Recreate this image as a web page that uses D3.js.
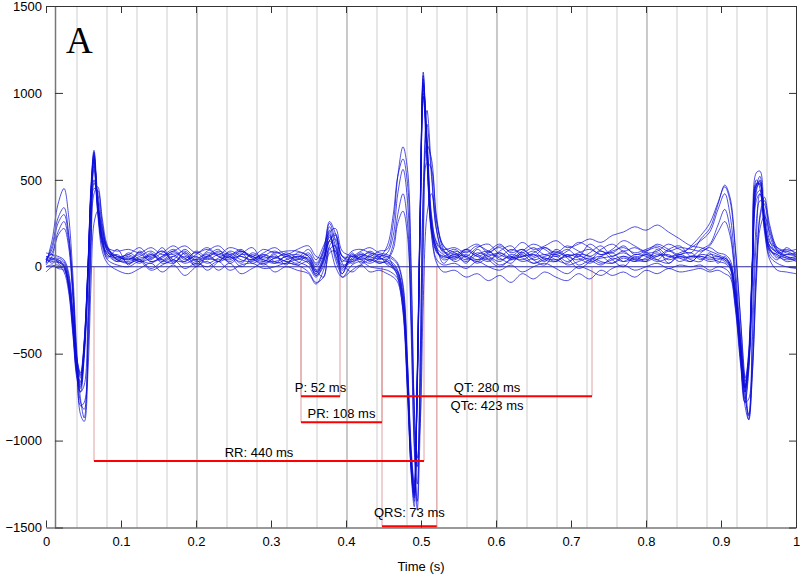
<!DOCTYPE html>
<html>
<head>
<meta charset="utf-8">
<script src="https://cdn.jsdelivr.net/npm/d3@7"></script>
<style>
  body { margin: 0; background: #fff; }
  svg { display: block; font-family: "Liberation Sans", Arial, sans-serif; }
</style>
</head>
<body>
<svg id="chart" width="800" height="574"></svg>
<script>
// sample times (s), shared by all overlaid beats
const timeS = [
  0.000, 0.008, 0.016, 0.024, 0.030, 0.036, 0.041, 0.046, 0.051, 0.056, 0.060, 0.064, 0.069, 0.075, 0.082, 0.095,
  0.110, 0.125, 0.140, 0.155, 0.170, 0.185, 0.200, 0.215, 0.230, 0.245, 0.260, 0.275, 0.290, 0.305, 0.320,
  0.335, 0.350, 0.360, 0.370, 0.378, 0.386, 0.395, 0.408, 0.420, 0.432, 0.444,
  0.455, 0.463, 0.469, 0.476, 0.482, 0.487, 0.491, 0.495, 0.499, 0.503, 0.508, 0.514, 0.521, 0.530,
  0.545, 0.560, 0.575, 0.590, 0.605, 0.620, 0.635, 0.650, 0.665, 0.680, 0.695, 0.710, 0.725, 0.740, 0.755, 0.770, 0.785, 0.800, 0.815, 0.830, 0.845, 0.860,
  0.873, 0.885, 0.896, 0.905, 0.912, 0.919, 0.926, 0.932, 0.937, 0.942, 0.947, 0.952, 0.958, 0.965, 0.975, 0.987, 1.000
];

// overlaid ECG traces (uV)
const trace01 = [
  40, 30, 25, 5, -80, -330, -580, -660, -430, 20, 450, 660, 330, 140, 80, 60,
  40, 70, 30, 50, 90, 40, 60, 20, 50, 80, 40, 30, 60, 20, 40,
  60, 30, -40, 40, 190, 60, -20, 50, 70, 40, 30,
  20, 0, -40, -200, -650, -1150, -1320, -650, 350, 1080, 650, 220, 90, 50,
  70, 40, 80, 60, 30, 70, 50, 20, 40, 60, 10, 30, 50, 20, 40, 60, 30, 50, 80, 40, 60, 50,
  60, 40, 50, 30, 0, -180, -480, -700, -520, 40, 480, 470, 240, 100, 60, 40, 50
];
const trace02 = [
  60, 50, 40, 20, -60, -300, -540, -630, -460, -30, 420, 620, 380, 160, 90, 40,
  60, 30, 80, 20, 40, 100, 50, 70, 30, 60, 90, 50, 20, 50, 70,
  30, 0, -60, 20, 150, 90, 0, 30, 60, 80, 50,
  40, 20, -20, -150, -580, -1100, -1280, -720, 250, 1020, 720, 260, 110, 70,
  40, 90, 60, 30, 80, 50, 60, 90, 40, 30, 70, 50, 20, 60, 80, 30, 50, 70, 40, 90, 50, 30,
  70, 60, 30, 20, -10, -200, -520, -720, -560, 0, 430, 500, 270, 120, 80, 60, 30
];
const trace03 = [
  20, 40, 30, 10, -100, -360, -600, -680, -470, -10, 430, 640, 360, 150, 60, 70,
  20, 50, 60, 90, 30, 60, 20, 80, 60, 30, 70, 60, 40, 30, 60,
  70, 40, -20, 60, 210, 40, -40, 70, 40, 60, 20,
  30, -10, -50, -230, -700, -1180, -1350, -620, 380, 1100, 680, 230, 80, 60,
  90, 60, 30, 70, 50, 20, 80, 40, 60, 70, 30, 60, 40, 10, 50, 30, 70, 60, 30, 50, 70, 80,
  40, 70, 60, 40, 10, -160, -450, -690, -480, 60, 500, 450, 230, 110, 50, 70, 60
];
const trace04 = [
  50, 20, 40, 0, -120, -380, -620, -700, -500, -60, 390, 600, 340, 130, 70, 30,
  80, 40, 20, 60, 70, 30, 90, 50, 40, 70, 20, 80, 50, 60, 30,
  40, 50, -30, 30, 170, 110, 10, 40, 80, 50, 60,
  10, -10, -30, -170, -620, -1120, -1300, -680, 300, 1050, 700, 240, 100, 40,
  60, 30, 70, 90, 40, 60, 30, 50, 70, 40, 20, 70, 60, 30, 20, 60, 40, 30, 60, 70, 30, 60,
  50, 30, 40, 50, 20, -140, -430, -660, -540, 30, 470, 490, 260, 90, 70, 30, 40
];
const trace05 = [
  0, 10, -10, -20, -110, -340, -560, -640, -480, -40, 380, 580, 320, 120, 40, 10,
  0, 30, -20, 10, 40, -10, 20, 0, 30, -20, 10, 20, -10, 0, 20,
  10, -30, -90, -60, 80, 90, -60, 10, 30, 0, -10,
  -20, -40, -70, -210, -670, -1140, -1290, -600, 320, 980, 620, 200, 40, 10,
  20, -10, 30, 0, -20, 10, -30, 0, 20, -10, -40, 0, -20, -50, -10, 10, -20, 0, 20, -10, 10, 0,
  10, -20, 0, -10, -40, -220, -540, -760, -580, -40, 410, 440, 220, 60, 20, 0, -10
];
const trace06 = [
  80, 70, 60, 40, -30, -270, -520, -610, -420, 10, 470, 670, 400, 190, 110, 90,
  100, 80, 110, 70, 90, 120, 80, 100, 70, 110, 90, 60, 100, 80, 90,
  90, 60, 0, 80, 230, 120, 30, 90, 100, 80, 70,
  60, 40, 10, -120, -560, -1080, -1260, -700, 280, 1040, 760, 300, 140, 100,
  110, 80, 120, 90, 60, 100, 80, 110, 70, 90, 60, 80, 100, 70, 90, 110, 80, 100, 120, 90, 110, 100,
  90, 110, 80, 70, 40, -120, -400, -640, -500, 80, 540, 550, 290, 140, 110, 90, 100
];
const trace07 = [
  30, 120, 280, 340, 200, -150, -560, -800, -780, -350, 200, 480, 420, 230, 100, 50,
  70, 30, 50, 90, 40, 30, 70, 110, 60, 40, 80, 20, 60, 90, 50,
  20, 70, 10, 90, 250, 150, 40, 30, 50, 90, 60,
  80, 180, 420, 560, 380, -300, -1000, -1250, -500, 400, 820, 520, 200, 90,
  50, 100, 70, 40, 90, 120, 60, 80, 110, 70, 100, 60, 130, 90, 80, 120, 70, 90, 110, 60, 80, 110,
  150, 200, 330, 420, 300, 0, -400, -750, -850, -400, 150, 380, 360, 180, 90, 70, 80
];
const trace08 = [
  20, 150, 360, 450, 300, -60, -480, -760, -870, -500, 100, 420, 460, 280, 120, 40,
  30, 60, 90, 40, 20, 80, 30, 50, 90, 60, 30, 70, 40, 20, 60,
  50, 100, 40, 120, 200, 220, 90, 60, 40, 20, 50,
  120, 300, 520, 620, 480, -100, -800, -1150, -700, 100, 600, 560, 260, 120,
  80, 60, 110, 130, 70, 50, 90, 130, 100, 60, 90, 140, 110, 70, 100, 150, 120, 90, 130, 100, 70, 120,
  180, 250, 370, 460, 380, 100, -300, -650, -860, -550, 0, 280, 380, 220, 100, 60, 50
];
const trace09 = [
  50, 80, 200, 260, 150, -160, -540, -720, -680, -250, 280, 500, 380, 200, 90, 30,
  50, 20, 70, 40, 80, 50, 10, 60, 30, 90, 60, 40, 70, 30, 20,
  60, 40, -30, 50, 150, 180, 60, 20, 60, 30, 70,
  50, 130, 300, 420, 250, -400, -1050, -1350, -550, 450, 900, 560, 210, 80,
  100, 50, 40, 80, 110, 60, 40, 70, 30, 100, 60, 40, 80, 120, 60, 90, 40, 70, 60, 100, 120, 60,
  100, 130, 240, 330, 220, -60, -480, -780, -760, -250, 250, 420, 320, 150, 80, 90, 60
];
const trace10 = [
  40, 70, 20, -10, -90, -320, -590, -670, -440, 0, 440, 650, 350, 170, 50, 100,
  10, 90, 40, 110, 20, 80, 0, 60, 100, 20, 70, 110, 30, 70, 10,
  80, 60, -20, -60, 100, 120, -40, 80, 20, 70, 40,
  60, 0, -60, -260, -740, -1200, -1380, -660, 330, 1120, 640, 210, 110, 20,
  80, 20, 100, 40, 0, 50, 100, 40, 10, 80, 50, -10, 30, 90, 40, 0, 60, 30, 100, 20, 70, 40,
  30, 80, 20, 60, 0, -190, -500, -720, -540, 20, 460, 520, 250, 80, 40, 110, 70
];
const trace11 = [
  -30, 0, 10, -30, -140, -400, -640, -720, -520, -80, 350, 560, 300, 90, 20, -20,
  -40, -10, 20, -30, 10, -50, 0, 30, -20, 20, -40, -10, 20, -30, 0,
  -20, -40, -100, -20, 110, 0, -60, -20, 10, -30, -20,
  -40, -60, -90, -250, -700, -1170, -1330, -640, 280, 1000, 600, 180, 20, -30,
  -20, -60, -40, -80, -50, -90, -40, -70, -30, -60, -80, -40, -70, -20, -50, -30, -60, -20, -40, -10, -30, -20,
  -10, -30, -20, -40, -60, -240, -560, -780, -600, -60, 380, 420, 200, 40, -20, -30, -40
];
const trace12 = [
  60, 40, 50, 30, -50, -280, -530, -620, -440, 0, 410, 610, 370, 170, 100, 60,
  70, 110, 50, 80, 120, 70, 40, 90, 120, 70, 100, 50, 80, 110, 70,
  100, 120, 60, 50, 150, 190, 60, 60, 90, 110, 80,
  70, 50, 20, -100, -540, -1050, -1240, -680, 260, 980, 700, 280, 130, 90,
  60, 100, 130, 80, 120, 90, 140, 100, 120, 150, 110, 130, 160, 140, 180, 200, 230, 210, 240, 200, 160, 120,
  110, 90, 70, 50, 20, -150, -460, -700, -540, 40, 450, 480, 260, 120, 90, 100, 80
];
const trace13 = [
  10, 60, 180, 220, 120, -200, -580, -850, -890, -600, -100, 250, 320, 220, 110, 40,
  20, 40, -10, 30, 60, 20, 40, -20, 30, 60, 0, 40, 10, 50, 30,
  10, 30, -50, 0, 120, 160, 20, -30, 10, 40, 20,
  40, 100, 250, 320, 180, -300, -800, -1100, -900, -200, 300, 420, 250, 100,
  30, 60, 20, 50, 10, 40, 70, 20, 50, 30, 70, 10, 40, 60, 20, 50, 30, 80, 40, 20, 60, 30,
  80, 120, 200, 260, 180, -80, -500, -800, -880, -600, -100, 220, 290, 200, 90, 50, 40
];
const trace14 = [
  30, 50, 30, 0, -100, -350, -610, -690, -480, -20, 420, 630, 350, 160, 70, 50,
  50, 40, 70, 30, 60, 90, 40, 60, 80, 50, 60, 40, 70, 50, 80,
  50, 20, -50, 40, 180, 70, -10, 60, 50, 40, 50,
  30, 10, -30, -190, -640, -1130, -1310, -660, 330, 1060, 680, 240, 90, 60,
  50, 70, 40, 60, 80, 40, 60, 70, 50, 40, 60, 70, 30, 50, 60, 80, 50, 40, 70, 60, 50, 60,
  60, 50, 60, 40, 10, -170, -470, -690, -530, 30, 470, 480, 250, 100, 70, 50, 60
];
const trace15 = [
  40, 100, 250, 300, 180, -120, -520, -780, -820, -420, 150, 450, 440, 250, 110, 60,
  40, 80, 30, 60, 100, 50, 80, 40, 70, 50, 90, 60, 30, 80, 60,
  40, 80, 20, 100, 260, 190, 60, 40, 70, 60, 90,
  100, 250, 520, 690, 560, 0, -900, -1400, -900, 200, 700, 620, 280, 120,
  70, 100, 60, 90, 130, 80, 100, 60, 110, 80, 120, 90, 60, 100, 130, 90, 110, 80, 90, 130, 100, 80,
  160, 220, 360, 470, 400, 120, -300, -700, -880, -600, -50, 300, 400, 240, 110, 80, 70
];
const traces = [trace01, trace02, trace03, trace04, trace05, trace06, trace07, trace08,
                trace09, trace10, trace11, trace12, trace13, trace14, trace15];

// measured intervals
const intervalLabels = ["P: 52 ms", "PR: 108 ms", "QRS: 73 ms", "QT: 280 ms", "RR: 440 ms"];
const intervalStart  = [0.340, 0.340, 0.448, 0.448, 0.064];
const intervalEnd    = [0.392, 0.448, 0.521, 0.728, 0.504];
const intervalLevel  = [-745, -895, -1493, -745, -1118];
const qtcLabel = "QTc: 423 ms";

const xTicks = [0, 0.1, 0.2, 0.3, 0.4, 0.5, 0.6, 0.7, 0.8, 0.9, 1];
const yTicks = [-1500, -1000, -500, 0, 500, 1000, 1500];
const gridTimes = d3.range(1, 25).map(k => 0.0013 + 0.04 * k); // 40 ms paper grid

const svg = d3.select('#chart');
const x = d3.scaleLinear().domain([0, 1]).range([46, 796]);
const y = d3.scaleLinear().domain([-1500, 1500]).range([527.5, 6]);
const plotTop = y(1500), plotBottom = y(-1500);

// grid
svg.append('g').selectAll('line')
  .data(gridTimes)
  .enter().append('line')
  .attr('x1', d => x(d)).attr('x2', d => x(d))
  .attr('y1', plotTop).attr('y2', plotBottom)
  .attr('stroke', (d, i) => (i + 1) % 5 === 0 ? '#c9c9c9' : '#e6e6e6')
  .attr('stroke-width', 2);

// thin guide lines down to each interval bar
const guides = [];
intervalStart.forEach((s, i) => {
  guides.push({ t: s, v: intervalLevel[i] });
  guides.push({ t: intervalEnd[i], v: intervalLevel[i] });
});
svg.append('g').selectAll('line')
  .data(guides)
  .enter().append('line')
  .attr('x1', d => x(d.t)).attr('x2', d => x(d.t))
  .attr('y1', y(0)).attr('y2', d => y(d.v))
  .attr('stroke', '#e0a0a0')
  .attr('stroke-width', 1);

// traces
const line = d3.line()
  .x((d, i) => x(timeS[i]))
  .y(d => y(d))
  .curve(d3.curveCatmullRom.alpha(0.5));

svg.append('g').selectAll('path')
  .data(traces)
  .enter().append('path')
  .attr('d', line)
  .attr('fill', 'none')
  .attr('stroke', '#0d0dd8')
  .attr('stroke-opacity', 0.8)
  .attr('stroke-width', 0.9);

// zero baseline
svg.append('line')
  .attr('x1', x(0)).attr('x2', x(1))
  .attr('y1', y(0)).attr('y2', y(0))
  .attr('stroke', '#2a2aa0')
  .attr('stroke-width', 1);

// interval bars + labels
const bars = svg.append('g');
intervalLabels.forEach((lab, i) => {
  bars.append('line')
    .attr('x1', x(intervalStart[i])).attr('x2', x(intervalEnd[i]))
    .attr('y1', y(intervalLevel[i])).attr('y2', y(intervalLevel[i]))
    .attr('stroke', '#ff0000')
    .attr('stroke-width', 2);
  bars.append('text')
    .attr('x', x((intervalStart[i] + intervalEnd[i]) / 2))
    .attr('y', y(intervalLevel[i]) - (i === 2 ? 9 : 4))
    .attr('text-anchor', 'middle')
    .attr('font-size', 13)
    .text(lab);
});
bars.append('text')
  .attr('x', x((intervalStart[3] + intervalEnd[3]) / 2))
  .attr('y', y(intervalLevel[3]) + 14)
  .attr('text-anchor', 'middle')
  .attr('font-size', 13)
  .text(qtcLabel);

// axes
const axisColor = '#333';
svg.append('g').attr('transform', `translate(0,${plotBottom})`)
  .call(d3.axisBottom(x).tickValues(xTicks).tickSize(-7).tickSizeOuter(0).tickPadding(9)
    .tickFormat(d3.format('~g')));
svg.append('g').attr('transform', `translate(0,${plotTop})`)
  .call(d3.axisTop(x).tickValues(xTicks).tickSize(-7).tickSizeOuter(0).tickFormat(''));
const gy = svg.append('g').attr('transform', `translate(${x(0.012)},0)`)
  .call(d3.axisLeft(y).tickValues(yTicks).tickSize(-8).tickSizeOuter(0).tickPadding(13)
    .tickFormat(d3.format('d')));
svg.append('g').attr('transform', `translate(${x(1)},0)`)
  .call(d3.axisRight(y).tickValues(yTicks).tickSize(-7).tickSizeOuter(0).tickFormat(''));

svg.selectAll('.domain, .tick line').attr('stroke', axisColor);
gy.select('.domain').attr('stroke', '#777').attr('stroke-width', 1.5);
svg.selectAll('.tick text')
  .attr('font-size', 13)
  .attr('font-family', '"Liberation Sans", Arial, sans-serif')
  .attr('fill', '#000');

svg.append('text')
  .attr('x', x(0.5)).attr('y', 571)
  .attr('text-anchor', 'middle')
  .attr('font-size', 13)
  .text('Time (s)');

svg.append('text')
  .attr('x', 66).attr('y', 53)
  .attr('font-family', '"Liberation Serif", "Times New Roman", serif')
  .attr('font-size', 37)
  .text('A');
</script>
</body>
</html>
